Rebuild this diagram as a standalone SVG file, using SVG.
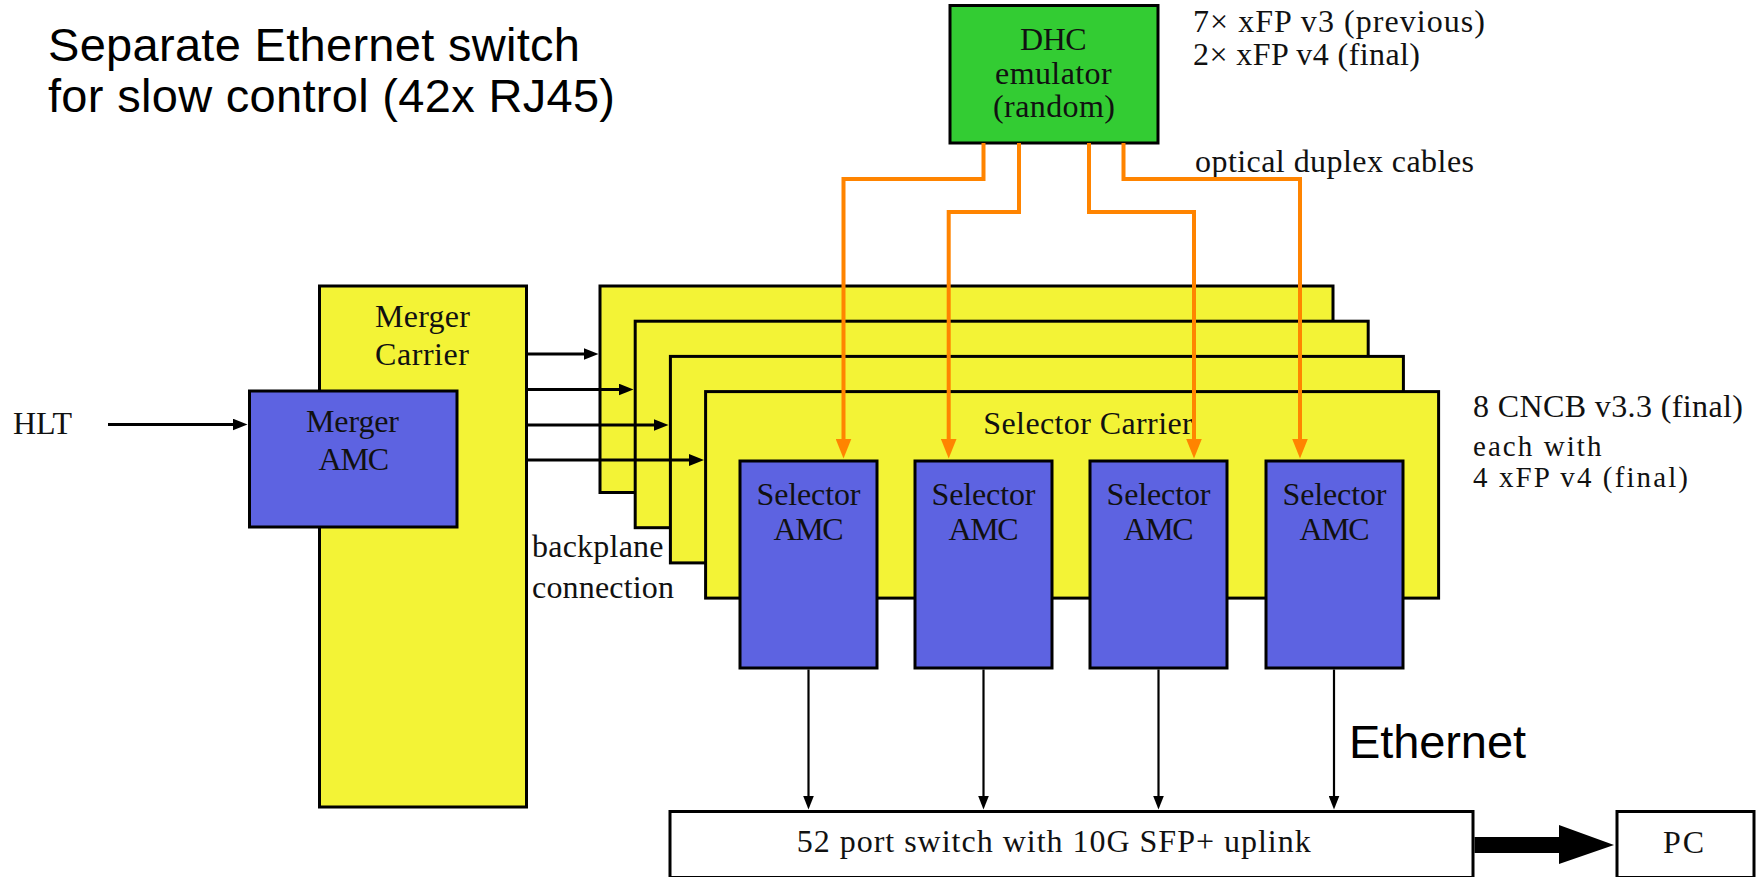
<svg xmlns="http://www.w3.org/2000/svg" width="1763" height="877" viewBox="0 0 1763 877">
<defs>
<style>
.box{stroke:#000;stroke-width:3}
.yel{fill:#f3f336}
.blu{fill:#5d63e1}
.grn{fill:#33cc33}
.wht{fill:#fff}
.t{font-family:"Liberation Serif","Times New Roman",serif;font-size:32px;fill:#111}
.sm{font-size:29px}
.s{font-family:"Liberation Sans",Arial,sans-serif;font-size:47px;fill:#000}
.bk{fill:none;stroke:#000;stroke-width:3}
.bt{fill:none;stroke:#000;stroke-width:2.2}
.or{fill:none;stroke:#ff8400;stroke-width:4;stroke-linejoin:miter}
</style>
<marker id="ah" markerUnits="userSpaceOnUse" markerWidth="16" markerHeight="12" refX="0.5" refY="6" orient="auto"><path d="M0,0 L15,6 L0,12 z" fill="#000"/></marker>
<marker id="ahs" markerUnits="userSpaceOnUse" markerWidth="15" markerHeight="11" refX="0.5" refY="5.5" orient="auto"><path d="M0,0 L14,5.5 L0,11 z" fill="#000"/></marker>
<marker id="aho" markerUnits="userSpaceOnUse" markerWidth="21" markerHeight="16" refX="0.5" refY="8" orient="auto"><path d="M0,0 L20,8 L0,16 z" fill="#ff8400"/></marker>
</defs>
<rect width="1763" height="877" fill="#fff"/>

<g id="note-ethernet-switch">
<text class="s" x="48" y="61" textLength="532">Separate Ethernet switch</text>
<text class="s" x="48" y="112" textLength="567">for slow control (42x RJ45)</text>
</g>

<g id="merger-carrier">
<rect class="box yel" x="319.5" y="286" width="207" height="521"/>
<text class="t" x="375" y="327" textLength="95">Merger</text>
<text class="t" x="375" y="365" textLength="94">Carrier</text>
</g>

<g id="merger-amc">
<rect class="box blu" x="249.5" y="391" width="207.5" height="136"/>
<text class="t" x="306" y="432" textLength="93">Merger</text>
<text class="t" x="318.5" y="469.5" textLength="70.5">AMC</text>
</g>

<g id="hlt-label"><text class="t" x="13" y="434" textLength="59">HLT</text></g>

<g id="backplane-label">
<text class="t" x="532" y="557" textLength="131.5">backplane</text>
<text class="t" x="532" y="598" textLength="142">connection</text>
</g>

<g id="selector-carrier-1"><rect class="box yel" x="600" y="286" width="733" height="206.5"/></g>
<g id="selector-carrier-2"><rect class="box yel" x="635.2" y="321.2" width="733" height="206.5"/></g>
<g id="selector-carrier-3"><rect class="box yel" x="670.4" y="356.4" width="733" height="206.5"/></g>
<g id="selector-carrier-4">
<rect class="box yel" x="705.6" y="391.6" width="733" height="206.5"/>
<text class="t" x="983.3" y="434.3" textLength="209.4">Selector Carrier</text>
</g>

<g id="carrier-note">
<text class="t" x="1473" y="417" textLength="270">8 CNCB v3.3 (final)</text>
<text class="t sm" x="1473" y="456" textLength="128.4">each with</text>
<text class="t sm" x="1473" y="487" textLength="215">4 xFP v4 (final)</text>
</g>

<g id="selector-amc-1">
<rect class="box blu" x="740" y="461" width="137" height="207"/>
<text class="t" x="756.5" y="505" textLength="104">Selector</text>
<text class="t" x="773.5" y="540" textLength="70">AMC</text>
</g>
<g id="selector-amc-2">
<rect class="box blu" x="915" y="461" width="137" height="207"/>
<text class="t" x="931.5" y="505" textLength="104">Selector</text>
<text class="t" x="948.5" y="540" textLength="70">AMC</text>
</g>
<g id="selector-amc-3">
<rect class="box blu" x="1090" y="461" width="137" height="207"/>
<text class="t" x="1106.5" y="505" textLength="104">Selector</text>
<text class="t" x="1123.5" y="540" textLength="70">AMC</text>
</g>
<g id="selector-amc-4">
<rect class="box blu" x="1266" y="461" width="137" height="207"/>
<text class="t" x="1282.5" y="505" textLength="104">Selector</text>
<text class="t" x="1299.5" y="540" textLength="70">AMC</text>
</g>

<g id="dhc-emulator">
<rect class="box grn" x="950" y="5.5" width="208" height="137.5"/>
<text class="t" x="1020" y="50" textLength="66.7">DHC</text>
<text class="t" x="995" y="83.5" textLength="116.7">emulator</text>
<text class="t" x="993" y="116.5" textLength="122">(random)</text>
</g>

<g id="dhc-note">
<text class="t" x="1193" y="32" textLength="292">7× xFP v3 (previous)</text>
<text class="t" x="1193" y="65" textLength="227">2× xFP v4 (final)</text>
</g>
<g id="optical-label"><text class="t" x="1195" y="172" textLength="279">optical duplex cables</text></g>

<g id="switch">
<rect class="box wht" x="670" y="811.5" width="803" height="66"/>
<text class="t" x="796.7" y="852" textLength="514">52 port switch with 10G SFP+ uplink</text>
</g>

<g id="pc">
<rect class="box wht" x="1617" y="811.5" width="137" height="66"/>
<text class="t" x="1663" y="853" textLength="41">PC</text>
</g>

<g id="ethernet-label"><text class="s" x="1349" y="758" textLength="177">Ethernet</text></g>

<g id="connectors">
<path class="bk" d="M108,424.5 H233" marker-end="url(#ah)"/>
<path class="bk" d="M527,354 H584" marker-end="url(#ah)"/>
<path class="bk" d="M527,389.5 H619" marker-end="url(#ah)"/>
<path class="bk" d="M527,425 H654" marker-end="url(#ah)"/>
<path class="bk" d="M527,460 H689.5" marker-end="url(#ah)"/>
<path class="or" d="M983.5,143 V179 H843.5 V439" marker-end="url(#aho)"/>
<path class="or" d="M1019,143 V212 H948.7 V439" marker-end="url(#aho)"/>
<path class="or" d="M1089,143 V212 H1194 V439" marker-end="url(#aho)"/>
<path class="or" d="M1123.5,143 V179 H1300 V439" marker-end="url(#aho)"/>
<path class="bt" d="M808.5,669.5 V796" marker-end="url(#ahs)"/>
<path class="bt" d="M983.5,669.5 V796" marker-end="url(#ahs)"/>
<path class="bt" d="M1158.5,669.5 V796" marker-end="url(#ahs)"/>
<path class="bt" d="M1334,669.5 V796" marker-end="url(#ahs)"/>
<polygon points="1474.5,837 1559,837 1559,825 1614,845 1559,864 1559,853 1474.5,853" fill="#000"/>
</g>
</svg>
